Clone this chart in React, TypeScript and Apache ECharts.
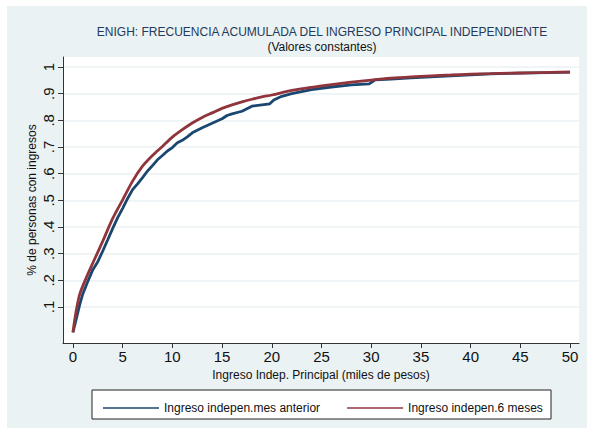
import React, { useEffect, useRef } from "react";
import * as echarts from "echarts";

const titleText = "ENIGH: FRECUENCIA ACUMULADA DEL INGRESO PRINCIPAL INDEPENDIENTE";
const subtitleText = "(Valores constantes)";
const xAxisTitle = "Ingreso Indep. Principal (miles de pesos)";
const yAxisTitle = "% de personas con ingresos";
const nameBlue = "Ingreso indepen.mes anterior";
const nameRed = "Ingreso indepen.6 meses";

const xTicks = [0, 5, 10, 15, 20, 25, 30, 35, 40, 45, 50];
const yTicks = [0.1, 0.2, 0.3, 0.4, 0.5, 0.6, 0.7, 0.8, 0.9, 1];

// Ingreso indepen.mes anterior (blue, stepped)
const xBlue = [0, 0.3, 0.7, 1.0, 1.4, 2, 2.5, 3, 3.5, 4, 4.5, 5, 5.5, 6, 6.5, 7, 7.5, 8, 8.5, 9, 9.5, 10, 10.5, 11, 11.5, 12, 13, 14, 15, 15.5, 16, 17, 18, 19, 19.8, 20.2, 21, 22, 24, 26, 28, 29.8, 30.4, 32, 34, 36, 38, 40, 42, 44, 46, 48, 50];
const yBlue = [0.005, 0.05, 0.112, 0.15, 0.187, 0.24, 0.27, 0.31, 0.352, 0.395, 0.435, 0.47, 0.507, 0.54, 0.562, 0.585, 0.61, 0.63, 0.652, 0.668, 0.685, 0.698, 0.716, 0.725, 0.738, 0.753, 0.772, 0.789, 0.806, 0.818, 0.824, 0.834, 0.853, 0.858, 0.862, 0.876, 0.89, 0.9, 0.915, 0.925, 0.933, 0.937, 0.952, 0.955, 0.959, 0.963, 0.967, 0.971, 0.974, 0.976, 0.978, 0.979, 0.981];

// Ingreso indepen.6 meses (red, smooth)
const xRed = [0, 0.3, 0.7, 1.4, 2, 3, 4, 5, 6, 7, 8, 9, 10, 11, 12, 13, 14, 15, 16, 17, 18, 19, 20, 22, 24, 26, 28, 30, 32, 34, 36, 38, 40, 42, 44, 46, 48, 50];
const yRed = [0.005, 0.08, 0.15, 0.215, 0.265, 0.347, 0.432, 0.502, 0.572, 0.628, 0.668, 0.702, 0.737, 0.765, 0.79, 0.811, 0.828, 0.845, 0.858, 0.869, 0.879, 0.888, 0.895, 0.912, 0.924, 0.934, 0.943, 0.951, 0.958, 0.963, 0.967, 0.97, 0.973, 0.975, 0.977, 0.978, 0.98, 0.981];

const FONT = "'Liberation Sans', Arial, Helvetica, sans-serif";
const BLUE = "#1a476f";
const RED = "#90353b";
const PANEL = "#eaf2f3";

function fmtY(v: number): string {
  if (Math.abs(v - 1) < 1e-9) return "1";
  return v.toFixed(1).replace(/^0/, "");
}

export default function App() {
  const ref = useRef<HTMLDivElement>(null);
  useEffect(() => {
    if (!ref.current) return;
    const chart = echarts.init(ref.current, undefined, { renderer: "svg" });
    const option: any = {
      animation: false,
      backgroundColor: "#ffffff",
      textStyle: { fontFamily: FONT },
      graphic: [
        {
          type: "rect",
          z: -10,
          silent: true,
          shape: { x: 7, y: 6, width: 580, height: 422 },
          style: { fill: PANEL },
        },
        {
          type: "text",
          x: 322,
          y: 32,
          silent: true,
          style: {
            text: titleText,
            fontSize: 12,
            fontFamily: FONT,
            fill: "#233a5c",
            align: "center",
            verticalAlign: "middle",
          },
        },
        {
          type: "text",
          x: 322,
          y: 47,
          silent: true,
          style: {
            text: subtitleText,
            fontSize: 12,
            fontFamily: FONT,
            fill: "#111111",
            align: "center",
            verticalAlign: "middle",
          },
        },
        {
          type: "rect",
          z: 0,
          silent: true,
          shape: { x: 92, y: 390, width: 459, height: 29 },
          style: { fill: "#ffffff", stroke: "#222222", lineWidth: 1 },
        },
      ],
      grid: {
        left: 63,
        top: 57,
        width: 516,
        height: 286,
        show: true,
        backgroundColor: "#ffffff",
        borderWidth: 0,
      },
      legend: {
        data: [
          { name: nameBlue, icon: "rect", itemStyle: { color: BLUE, opacity: 0.75 } },
          { name: nameRed, icon: "rect", itemStyle: { color: RED, opacity: 0.75 } },
        ],
        left: 98,
        top: 397,
        itemWidth: 56,
        itemHeight: 2,
        itemGap: 27,
        itemTextGap: 8,
        textStyle: { fontSize: 12, color: "#111111", fontFamily: FONT },
      },
      xAxis: {
        type: "value",
        min: -1,
        max: 50.9,
        name: xAxisTitle,
        nameLocation: "middle",
        nameGap: 26,
        nameTextStyle: { fontSize: 12, color: "#111111", fontFamily: FONT },
        axisLine: { show: true, onZero: false, lineStyle: { color: "#333333", width: 1 } },
        axisTick: { show: true, length: 5, customValues: xTicks, lineStyle: { color: "#333333" } },
        axisLabel: { customValues: xTicks, fontSize: 15, color: "#111111", margin: 6, fontFamily: FONT },
        splitLine: { show: false },
      },
      yAxis: {
        type: "value",
        min: -0.035,
        max: 1.0375,
        name: yAxisTitle,
        nameLocation: "middle",
        nameGap: 25,
        nameMoveOverlap: false,
        nameTextStyle: { fontSize: 12, color: "#111111", fontFamily: FONT },
        axisLine: { show: true, onZero: false, lineStyle: { color: "#333333", width: 1 } },
        axisTick: { show: true, length: 5, customValues: yTicks, lineStyle: { color: "#333333" } },
        axisLabel: {
          customValues: yTicks,
          rotate: 90,
          fontSize: 15,
          color: "#111111",
          margin: 7,
          fontFamily: FONT,
          formatter: (v: number) => fmtY(v),
        },
        splitLine: { show: true, lineStyle: { color: PANEL, width: 1.5 } },
      },
      series: [
        {
          name: nameBlue,
          type: "line",
          data: xBlue.map((x, i) => [x, yBlue[i]]),
          showSymbol: false,
          symbol: "none",
          z: 3,
          lineStyle: { color: BLUE, width: 2.8 },
          itemStyle: { color: BLUE },
        },
        {
          name: nameRed,
          type: "line",
          data: xRed.map((x, i) => [x, yRed[i]]),
          showSymbol: false,
          symbol: "none",
          smooth: 0.3,
          z: 4,
          lineStyle: { color: RED, width: 2.8 },
          itemStyle: { color: RED },
        },
      ],
    };
    chart.setOption(option);
    return () => chart.dispose();
  }, []);
  return (
    <div
      ref={ref}
      style={{ position: "fixed", left: 0, top: 0, width: 589, height: 428 }}
    />
  );
}
